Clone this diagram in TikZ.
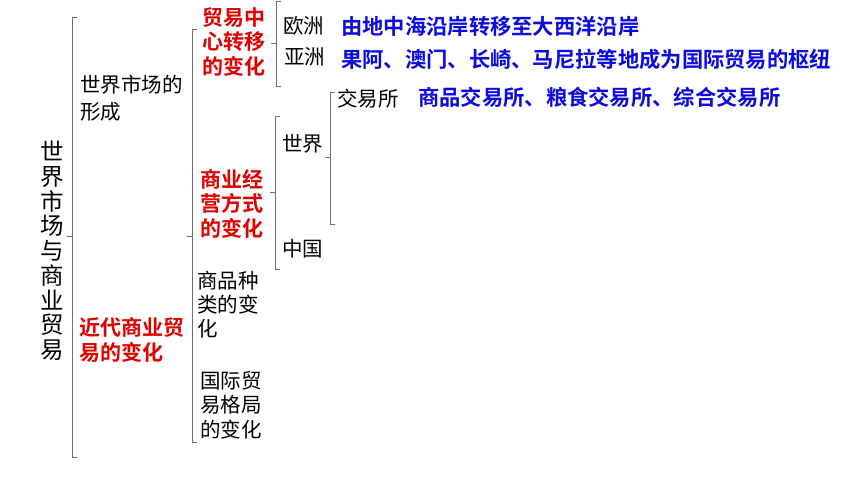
\documentclass[tikz,border=0pt]{standalone}
\usepackage{fontspec}
\newfontfamily\cjk{Noto Sans CJK SC}
\newfontfamily\cjkb{Noto Sans CJK SC Bold}
\definecolor{tred}{RGB}{225,0,0}
\definecolor{tblue}{RGB}{10,10,225}
\definecolor{brk}{RGB}{110,110,110}
\tikzset{
  txt/.style={anchor=north west,inner sep=0pt,align=left,text=black,font=\cjk\fontsize{20.5pt}{26pt}\selectfont},
  redt/.style={txt,text=tred,font=\cjkb\fontsize{21pt}{24.5pt}\selectfont},
  bluet/.style={txt,text=tblue,font=\cjkb\fontsize{21.3pt}{24.5pt}\selectfont},
  brace/.style={draw=brk,line width=0.8pt},
}
\newcommand{\mybrk}[4]{% x, top, bottom, mid
  \draw[brace] (#1+5,#2) -- (#1,#2) -- (#1,#3) -- (#1+5,#3);
  \draw[brace] (#1,#4) -- (#1-5,#4);
}
\begin{document}
\begin{tikzpicture}[x=1pt,y=-1pt]
\useasboundingbox (0,0) rectangle (860,482);
\fill[white] (0,0) rectangle (860,482);
% title
\node[txt,anchor=north,align=center,font=\cjk\fontsize{23.5pt}{24.7pt}\selectfont] (title) at (52,141) {世\\界\\市\\场\\与\\商\\业\\贸\\易};
% brackets
\mybrk{72}{17}{457}{236}
\mybrk{192}{29}{442}{236}
\mybrk{276}{1}{86}{43}
\mybrk{275}{116}{269}{192}
\mybrk{330}{92}{224}{157}
% level 2
\node[txt,font=\cjk\fontsize{20.5pt}{27pt}\selectfont] (form) at (80,75) {世界市场的\\形成};
\node[redt,font=\cjkb\fontsize{21pt}{25pt}\selectfont] (modern) at (79,317) {近代商业贸\\易的变化};
% level 3
\node[redt] (center) at (202,7) {贸易中\\心转移\\的变化};
\node[redt] (mode) at (200,169) {商业经\\营方式\\的变化};
\node[txt,font=\cjk\fontsize{20.5pt}{24pt}\selectfont] (goods) at (197,271) {商品种\\类的变\\化};
\node[txt,font=\cjk\fontsize{20.5pt}{24.5pt}\selectfont] (pattern) at (200,371) {国际贸\\易格局\\的变化};
% level 4
\node[txt] (eu) at (283,16) {欧洲};
\node[txt] (as) at (284,47) {亚洲};
\node[txt] (world) at (282,134) {世界};
\node[txt] (cn) at (282,239) {中国};
\node[txt] (ex) at (337,89) {交易所};
% details
\node[bluet] (d1) at (341,16) {由地中海沿岸转移至大西洋沿岸};
\node[bluet] (d2) at (341,49) {果阿、澳门、长崎、马尼拉等地成为国际贸易的枢纽};
\node[bluet] (d3) at (418,87) {商品交易所、粮食交易所、综合交易所};
\end{tikzpicture}
\end{document}
